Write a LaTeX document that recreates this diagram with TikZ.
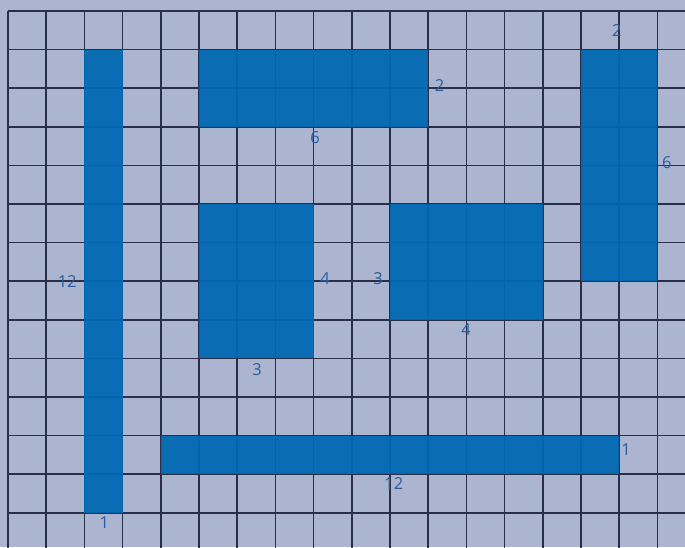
\documentclass[tikz,border=0pt]{standalone}
\usepackage{fontspec}
\setmainfont{Open Sans}
\definecolor{paper}{RGB}{172,181,208}
\definecolor{fillblue}{RGB}{0,104,178}
\definecolor{gridc}{RGB}{42,46,72}
\definecolor{labelc}{RGB}{42,92,158}
\tikzset{
  shapefill/.style={fill=fillblue, fill opacity=0.94},
  gridline/.style={draw=gridc, line width=1.7pt},
  dimlabel/.style={text=labelc, font=\fontsize{16.5}{16.5}\selectfont, inner sep=0pt}
}
\begin{document}
\begin{tikzpicture}[x=1pt,y=-1pt]
\fill[paper] (0,0) rectangle (685,547);
\useasboundingbox (0,0) rectangle (685,547);
\begin{scope}[shift={(8pt,-11pt)}, x=38.2pt, y=-38.6pt]
  % grid
  \foreach \i in {0,...,17} \draw[gridline] (\i,0) -- (\i,14.5);
  \foreach \j in {0,...,14} \draw[gridline] (0,\j) -- (17.9,\j);
  % shaded figures
  \fill[shapefill] (2,1) rectangle (3,13);
  \fill[shapefill] (5,1) rectangle (11,3);
  \fill[shapefill] (15,1) rectangle (17,7);
  \fill[shapefill] (5,5) rectangle (8,9);
  \fill[shapefill] (10,5) rectangle (14,8);
  \fill[shapefill] (4,11) rectangle (16,12);
  % labels
  \node[dimlabel] (l12a) at (1.55,7.02) {12};
  \node[dimlabel] (l1a) at (2.52,13.25) {1};
  \node[dimlabel] (l2a) at (11.3,1.92) {2};
  \node[dimlabel] (l6a) at (8.04,3.29) {6};
  \node[dimlabel] (l2b) at (15.94,0.5) {2};
  \node[dimlabel] (l6b) at (17.25,3.94) {6};
  \node[dimlabel] (l4a) at (8.3,6.92) {4};
  \node[dimlabel] (l3a) at (6.52,9.3) {3};
  \node[dimlabel] (l3b) at (9.69,6.92) {3};
  \node[dimlabel] (l4b) at (11.99,8.26) {4};
  \node[dimlabel] (l1b) at (16.18,11.37) {1};
  \node[dimlabel] (l12b) at (10.1,12.23) {12};
\end{scope}
\end{tikzpicture}
\end{document}
